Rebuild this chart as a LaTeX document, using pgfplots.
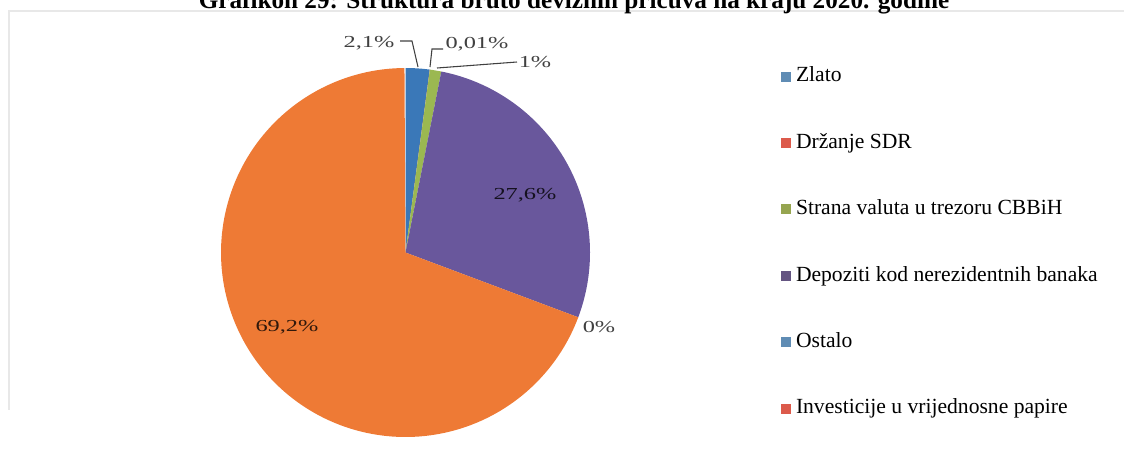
\documentclass[border=0pt]{standalone}
\usepackage{pgfplots}
\pgfplotsset{compat=1.18}
\usepackage{pgfplotstable}
\usepackage{graphicx}
\usepackage{fontspec}
\setmainfont{Liberation Serif}

% slice colours (pie) and legend swatches
\definecolor{c0}{HTML}{3A78B8}
\definecolor{c1}{HTML}{EE7A35}
\definecolor{c2}{HTML}{9BB851}
\definecolor{c3}{HTML}{69579C}
\definecolor{c4}{HTML}{4A86C0}
\definecolor{c5}{HTML}{EE7A35}
\definecolor{lc0}{HTML}{5F8CB4}
\definecolor{lc1}{HTML}{DC5A4B}
\definecolor{lc2}{HTML}{96A550}
\definecolor{lc3}{HTML}{645582}
\definecolor{lc4}{HTML}{5F8CB4}
\definecolor{lc5}{HTML}{DC5A4B}
\definecolor{lbl}{HTML}{404040}

% shares in percent, clockwise from 12 o'clock
\pgfplotstableread{
idx value
0 2.1
1 0.01
2 1
3 27.6
4 0
5 69.2
}\piedata

\newcommand{\pct}[1]{\scalebox{1.45}[1]{#1}}

\begin{document}
\begin{tikzpicture}
\useasboundingbox (0,0) rectangle (844.5pt,-342.75pt);

\begin{axis}[
  at={(304.125pt,-189.375pt)}, anchor=center,
  scale only axis, width=276.75pt, height=276.75pt,
  xmin=-1, xmax=1, ymin=-1, ymax=1,
  hide axis, clip=false,
  legend cell align=left,
  legend image code/.code={\fill[#1, draw=none] (0pt,-3.75pt) rectangle (7.5pt,3.75pt);},
  legend style={
    at={(1.5176,1.0127)}, anchor=north west,
    draw=none, fill=none, inner sep=0pt, outer sep=0pt,
    font=\fontsize{16.2}{19}\selectfont,
    row sep=29.8pt, column sep=3.75pt,
    nodes={inner xsep=0pt, inner ysep=2pt, text height=12pt, text depth=4pt},
  },
]
  \def\cum{0}
  \pgfplotsforeachungrouped \i in {0,...,5}{%
    \pgfplotstablegetelem{\i}{value}\of\piedata
    \let\v=\pgfplotsretval
    \pgfmathsetmacro\aone{90-3.6*\cum}
    \pgfmathsetmacro\cum{\cum+\v}
    \pgfmathsetmacro\atwo{90-3.6*\cum}
    \ifdim\v pt>0pt
      \edef\tmp{\noexpand\addplot[fill=c\i, draw=none, forget plot,
        domain=\atwo:\aone, samples=150]
        ({cos(x)},{sin(x)}) -- (axis cs:0,0) -- cycle;}%
      \tmp
    \fi
  }

  \addlegendimage{fill=lc0}\addlegendentry{Zlato}
  \addlegendimage{fill=lc1}\addlegendentry{Držanje SDR}
  \addlegendimage{fill=lc2}\addlegendentry{Strana valuta u trezoru CBBiH}
  \addlegendimage{fill=lc3}\addlegendentry{Depoziti kod nerezidentnih banaka}
  \addlegendimage{fill=lc4}\addlegendentry{Ostalo}
  \addlegendimage{fill=lc5}\addlegendentry{Investicije u vrijednosne papire}
\end{axis}

% annotations in pixel units of the reference (y downwards)
\begin{scope}[x=0.75pt, y=-0.75pt]
  \draw[black!9, line width=1.1pt] (9,410) -- (9,11) -- (1124,11);
  \node[anchor=base, font=\bfseries\fontsize{18.9}{21}\selectfont] at (574,8)
    {Grafikon 29: Struktura bruto deviznih pričuva na kraju 2020. godine};

  \begin{scope}[font=\fontsize{12.6}{14}\selectfont, text=lbl, inner sep=0pt]
    \draw[lbl, line width=0.8pt] (400,41) -- (412,41) -- (418,67);
    \draw[lbl, line width=0.8pt] (443,49) -- (432,49) -- (430,67);
    \draw[lbl, line width=0.8pt] (517,62) -- (437,68);
    \node at (369,43) {\pct{2,1\%}};
    \node at (477,44) {\pct{0,01\%}};
    \node at (535,62) {\pct{1\%}};
    \node at (599,327) {\pct{0\%}};
    \node[text=black!80!c3] at (525,195) {\pct{27,6\%}};
    \node[text=black!80!c5] at (287,327) {\pct{69,2\%}};
  \end{scope}
\end{scope}
\end{tikzpicture}
\end{document}
